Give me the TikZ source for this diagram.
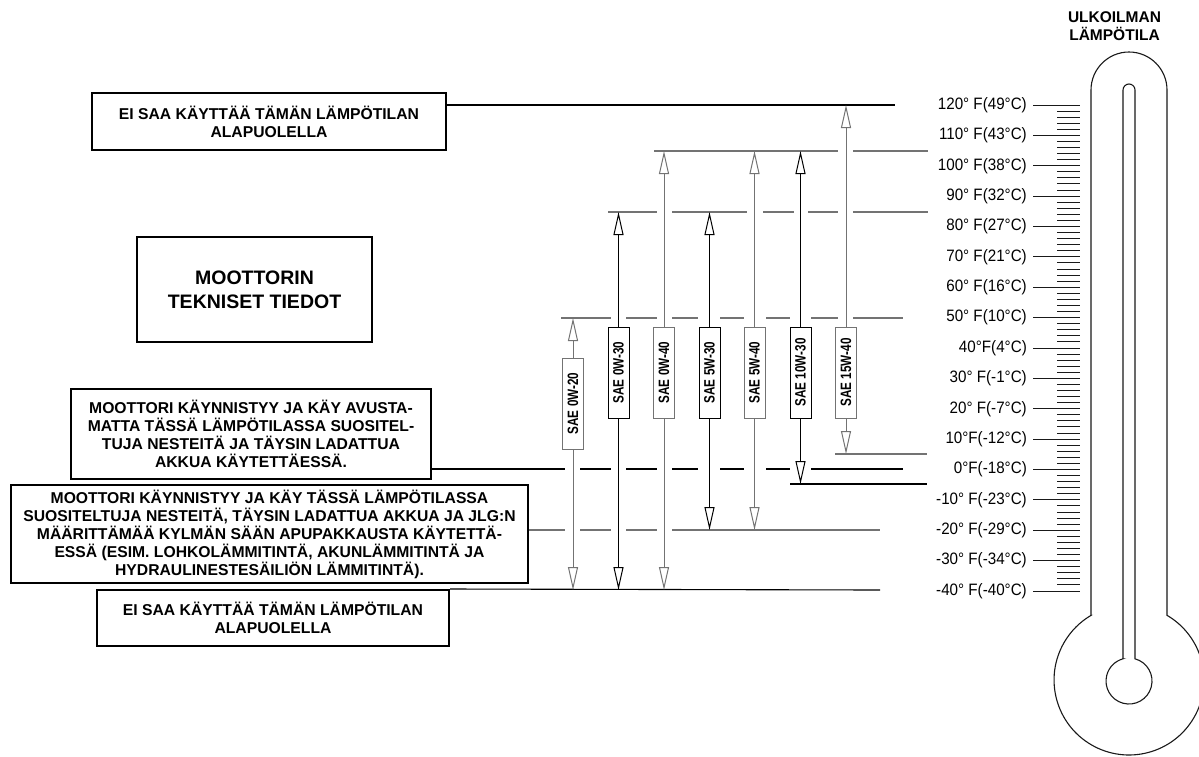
\documentclass[tikz,border=0pt]{standalone}
\usepackage{fontspec}
\usepackage{graphicx}
\setmainfont{Liberation Sans}
\usetikzlibrary{arrows.meta}
\definecolor{lg}{gray}{0.45}
\definecolor{dk}{gray}{0.1}
\tikzset{
  txtbox/.style={draw=black, line width=2pt, inner sep=0pt, align=center,
    font=\fontsize{15.7}{18}\selectfont\bfseries},
  oilbox/.style={draw, line width=1pt, inner sep=0pt, fill=white,
    minimum width=21pt, minimum height=91pt, font=\fontsize{15}{15}\selectfont\bfseries},
  oilarrow/.style={-{Triangle[open,length=23pt,width=10pt]}, line width=1pt},
  lvl/.style={line width=1.1pt},
  tick/.style={line width=1pt, draw=dk},
  templabel/.style={anchor=east, inner sep=0pt, font=\fontsize{16.5}{16.5}\selectfont},
  thermo/.style={line width=1.1pt, draw=dk},
}
\begin{document}
\begin{tikzpicture}[x=1pt,y=1pt]
\useasboundingbox (0,0) rectangle (1199,-756);

% text boxes
\node[txtbox, minimum width=354pt, minimum height=57pt] (b1) at (269,-121.5)
  {EI SAA KÄYTTÄÄ TÄMÄN LÄMPÖTILAN\\ALAPUOLELLA};
\node[txtbox, minimum width=235pt, minimum height=105pt,
  font=\fontsize{19.5}{24}\selectfont\bfseries] (b2) at (254.5,-289.5)
  {MOOTTORIN\\TEKNISET TIEDOT};
\node[txtbox, minimum width=360pt, minimum height=90pt] (b3) at (251,-434)
  {MOOTTORI KÄYNNISTYY JA KÄY AVUSTA-\\MATTA TÄSSÄ LÄMPÖTILASSA SUOSITEL-\\TUJA NESTEITÄ JA TÄYSIN LADATTUA\\AKKUA KÄYTETTÄESSÄ.};
\node[txtbox, minimum width=517pt, minimum height=98pt] (b4) at (269.5,-534)
  {MOOTTORI KÄYNNISTYY JA KÄY TÄSSÄ LÄMPÖTILASSA\\SUOSITELTUJA NESTEITÄ, TÄYSIN LADATTUA AKKUA JA JLG:N\\MÄÄRITTÄMÄÄ KYLMÄN SÄÄN APUPAKKAUSTA KÄYTETTÄ-\\ESSÄ (ESIM. LOHKOLÄMMITINTÄ, AKUNLÄMMITINTÄ JA\\HYDRAULINESTESÄILIÖN LÄMMITINTÄ).};
\node[txtbox, minimum width=352pt, minimum height=56pt] (b5) at (273,-618)
  {EI SAA KÄYTTÄÄ TÄMÄN LÄMPÖTILAN\\ALAPUOLELLA};

% level lines (black)
\draw[lvl] (b1.east |- 0,-105) -- (895,-105);
\draw[lvl] (b3.east |- 0,-469) -- (565,-469);
\foreach \a/\b in {580/611,626/657,672/698,720/744,766/790,811/903}
  \draw[lvl] (\a,-469) -- (\b,-469);
\draw[lvl] (790,-484) -- (927,-484);
\draw[lvl] (b5.north east) -- (880,-590);
% level lines (grey)
\foreach \y/\a/\b in {151/654/838,151/853/928,
  212/608/657,212/672/747,212/763/794,212/808/838,212/853/928,
  318/561/611,318/626/657,318/672/698,318/720/744,318/766/790,318/811/838,318/853/903,
  454/835/927,530/580/611,530/626/657,530/672/880}
  \draw[lvl, lg] (\a,-\y) -- (\b,-\y);
\draw[lvl, lg] (b4.east |- 0,-530) -- (565,-530);

% oil grades
\foreach \n/\x/\yc/\ya/\yb/\lab/\col in {
  1/573/403.5/318/590/{SAE 0W-20}/lg,
  2/618.5/372.5/212/590/{SAE 0W-30}/black,
  3/664/372.5/151/590/{SAE 0W-40}/lg,
  4/709.5/372.5/212/530/{SAE 5W-30}/black,
  5/754.5/372.5/151/530/{SAE 5W-40}/lg,
  6/800.5/372.5/151/484/{SAE 10W-30}/black,
  7/846/372.5/105/454/{SAE 15W-40}/lg}{
  \node[oilbox, draw=\col] (o\n) at (\x,-\yc) {\rotatebox{90}{\scalebox{0.78}[1]{\lab}}};
  \coordinate (t\n) at (\x,-\ya);
  \coordinate (d\n) at (\x,-\yb);
  \draw[oilarrow, \col] (o\n.north) -- (t\n);
  \draw[oilarrow, \col] (o\n.south) -- (d\n);
}

% title
\node[font=\bfseries\fontsize{15.5}{18}\selectfont, align=center, inner sep=0pt] (title) at (1114.5,-26)
  {ULKOILMAN\\LÄMPÖTILA};

% thermometer
\draw[thermo] (1091,-615.3) -- (1091,-90) arc[start angle=180, end angle=0, radius=38]
  -- (1167,-615.3) arc[start angle=59.6, end angle=-239.6, radius=75] -- cycle;
\draw[thermo] (1123,-658.8) -- (1123,-90) arc[start angle=180, end angle=0, radius=6]
  -- (1135,-658.8) arc[start angle=74.9, end angle=-254.9, radius=23] -- cycle;

% ticks
\foreach \i in {0,...,80}
  \draw[tick] (1057,{-105-\i*6.075}) -- (1080,{-105-\i*6.075});

% temperature labels
\foreach \t/\lab in {120/{120° F(49°C)},110/{110° F(43°C)},100/{100° F(38°C)},
  90/{90° F(32°C)},80/{80° F(27°C)},70/{70° F(21°C)},60/{60° F(16°C)},
  50/{50° F(10°C)},40/{40°F(4°C)},30/{30° F(-1°C)},20/{20° F(-7°C)},
  10/{10°F(-12°C)},0/{0°F(-18°C)},-10/{-10° F(-23°C)},-20/{-20° F(-29°C)},
  -30/{-30° F(-34°C)},-40/{-40° F(-40°C)}}{
  \pgfmathsetmacro{\yy}{-105-(120-\t)*3.0375}
  \node[templabel] (L\t) at (1027,\yy) {\scalebox{0.92}[1]{\lab}};
  \draw[tick] (1033,\yy) -- (1057,\yy);
}
\end{tikzpicture}
\end{document}
